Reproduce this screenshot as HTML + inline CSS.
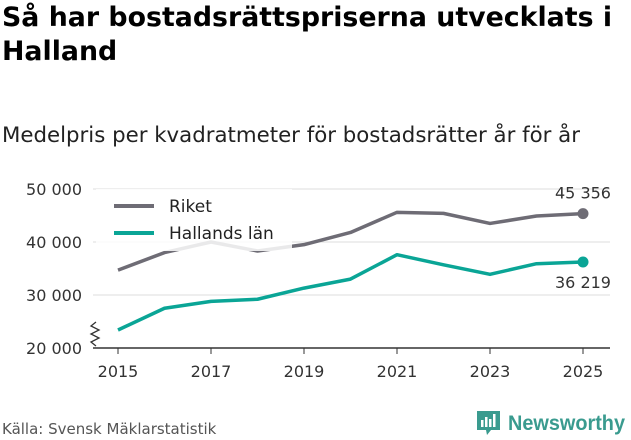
<!DOCTYPE html>
<html><head><meta charset="utf-8"><style>
body{margin:0;width:631px;height:439px;background:#fff;font-family:"DejaVu Sans","Liberation Sans",sans-serif;overflow:hidden;position:relative;color:#000}
#title{position:absolute;left:2px;top:1px;font-size:26.8px;font-weight:bold;line-height:34px;width:630px}
#sub{position:absolute;left:2px;top:123px;font-size:21.3px;color:#222}
#src{position:absolute;left:2px;top:420px;font-size:15px;color:#555}
#logo{position:absolute;left:476px;top:408px}
</style></head><body>
<div id="title">Så har bostadsrättspriserna utvecklats i Halland</div>
<div id="sub">Medelpris per kvadratmeter för bostadsrätter år för år</div>
<svg id="chart" width="631" height="439" style="position:absolute;left:0;top:0"></svg>
<div id="src">Källa: Svensk Mäklarstatistik</div>
<svg id="logo" width="155" height="32">
<path d="M1 3h23v19h-9l-4 5l-1-5h-9z" fill="#3a9b8f"/>
<rect x="5" y="12" width="2.5" height="7" fill="#fff"/><rect x="9" y="9" width="2.5" height="10" fill="#fff"/><rect x="13" y="11" width="2.5" height="8" fill="#fff"/><rect x="17" y="6" width="2.5" height="13" fill="#fff"/>
<text x="32" y="22" font-family="Liberation Sans,sans-serif" font-size="21" font-weight="bold" fill="#3a9b8f" textLength="117" lengthAdjust="spacingAndGlyphs">Newsworthy</text>
</svg>
<script>
const years=[2015,2016,2017,2018,2019,2020,2021,2022,2023,2024,2025];
const riket=[34700,38000,40000,38300,39500,41800,45600,45400,43500,44900,45356];
const halland=[23400,27500,28800,29200,31300,33000,37600,35700,33900,35900,36219];
const yTicks=[20000,30000,40000,50000];
const xTicks=[2015,2017,2019,2021,2023,2025];
const NS="http://www.w3.org/2000/svg";
const svg=document.getElementById('chart');
const x=v=>118+(v-2015)*46.5;
const y=v=>348-(v-20000)*(159/30000);
const fmt=v=>String(v).replace(/\B(?=(\d{3})+$)/g,' ');
function el(t,a){const e=document.createElementNS(NS,t);for(const k in a)e.setAttribute(k,a[k]);svg.appendChild(e);return e;}
yTicks.forEach(t=>{
  if(t>20000){const g=el('line',{x1:93,x2:610,y1:y(t),y2:y(t),stroke:'#ddd','stroke-width':1});
  
  }
  const l=el('text',{x:82,y:y(t)+6,'text-anchor':'end','font-size':16,fill:'#333'});l.textContent=fmt(t);
  
  
});
const ax=el('line',{x1:93,x2:610,y1:348,y2:348,stroke:'#333','stroke-width':1.5});


const br=el('path',{d:'M96 322l-5 4l8 4l-8 4l8 4l-8 4l5 4',fill:'none',stroke:'#333','stroke-width':1.3});


xTicks.forEach(t=>{
  el('line',{x1:x(t),x2:x(t),y1:348,y2:354,stroke:'#333'});
  const l=el('text',{x:x(t),y:377,'text-anchor':'middle','font-size':16,fill:'#333'});l.textContent=t;
  
  
});
function series(vals,color,name,dy){
  const p=el('polyline',{points:vals.map((v,i)=>x(years[i])+','+y(v)).join(' '),fill:'none',stroke:color,'stroke-width':3.5,'stroke-linejoin':'round'});
  
  
  const n=vals.length-1;
  const c=el('circle',{cx:x(years[n]),cy:y(vals[n]),r:5.5,fill:color});
  
  
  const t=el('text',{x:x(years[n]),y:y(vals[n])+dy,'text-anchor':'middle','font-size':16,fill:'#333'});t.textContent=fmt(vals[n]);
  
  
}
series(riket,'#6e6c75','riket',-15);
series(halland,'#0aa596','halland',26);
const lb=el('rect',{x:96,y:189,width:196,height:62,fill:'#fff','fill-opacity':0.85});


[['Riket','#6e6c75',206],['Hallands län','#0aa596',233]].forEach(([n,c,yy])=>{
  el('line',{x1:114,x2:154,y1:yy,y2:yy,stroke:c,'stroke-width':4});
  const t=el('text',{x:169,y:yy+6,'font-size':17,fill:'#222'});t.textContent=n;
  
  
});
</script>
</body></html>
